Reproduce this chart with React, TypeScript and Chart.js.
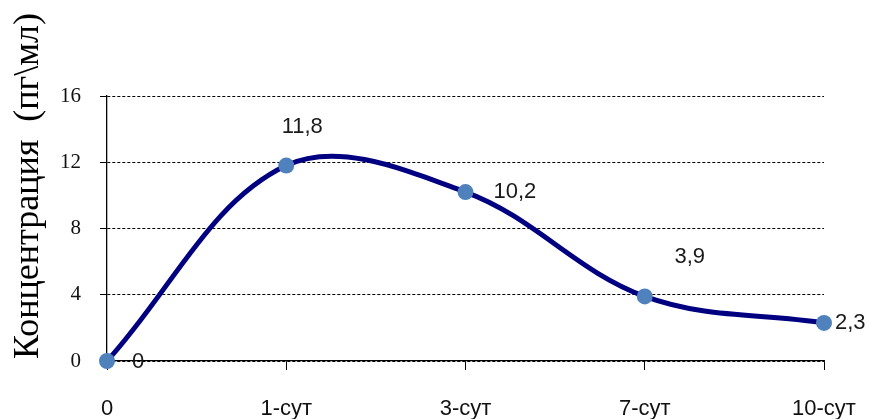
import React, { useEffect, useRef } from "react";
import { Chart, registerables } from "chart.js";

Chart.register(...registerables);

const categories = ["0", "1-сут", "3-сут", "7-сут", "10-сут"];
const concentration = [0, 11.8, 10.2, 3.9, 2.3];
const valueLabels = ["0", "11,8", "10,2", "3,9", "2,3"];
const yTicks = [0, 4, 8, 12, 16];
const yTitle = "Концентрация  (пг\\мл)";

const labelPlugin = {
  id: "valueLabels",
  afterDatasetsDraw(chart: any, _args: any, opts: any) {
    const meta = chart.getDatasetMeta(0);
    const ctx = chart.ctx;
    ctx.save();
    ctx.font = opts.font;
    ctx.fillStyle = opts.color;
    ctx.textBaseline = "middle";
    meta.data.forEach((pt: any, i: number) => {
      const p = opts.placement[i];
      ctx.textAlign = p.align;
      ctx.fillText(valueLabels[i], pt.x + p.dx, pt.y + p.dy);
    });
    ctx.restore();
  },
};

const titlePlugin = {
  id: "yTitle",
  afterDraw(chart: any, _args: any, opts: any) {
    const ctx = chart.ctx;
    ctx.save();
    ctx.translate(opts.x, opts.y);
    ctx.rotate(-Math.PI / 2);
    ctx.font = opts.font;
    ctx.fillStyle = opts.color;
    ctx.textAlign = "center";
    ctx.textBaseline = "middle";
    ctx.fillText(yTitle, 0, 0);
    ctx.restore();
  },
};

export default function App() {
  const ref = useRef<HTMLCanvasElement | null>(null);
  useEffect(() => {
    document.body.style.margin = "0";
    const chart = new Chart(ref.current as HTMLCanvasElement, {
      type: "line",
      data: {
        labels: categories,
        datasets: [
          {
            data: concentration,
            borderColor: "#000080",
            borderWidth: 5,
            tension: 0.36,
            pointRadius: 8,
            pointBackgroundColor: "#4F81BD",
            pointBorderWidth: 0,
            pointBorderColor: "#4F81BD",
            clip: false as any,
            fill: false,
          },
        ],
      },
      plugins: [labelPlugin, titlePlugin],
      options: {
        animation: false,
        responsive: false,
        devicePixelRatio: 1,
        layout: { padding: { top: 96, right: 45, left: 0, bottom: 0 } },
        plugins: {
          legend: { display: false },
          tooltip: { enabled: false },
          valueLabels: {
            font: "22px 'Liberation Sans', Arial, sans-serif",
            color: "#1a1a1a",
            placement: [
              { dx: 25, dy: 1, align: "left" },
              { dx: 16, dy: -39, align: "center" },
              { dx: 28, dy: 0, align: "left" },
              { dx: 45, dy: -39, align: "center" },
              { dx: 11, dy: 0, align: "left" },
            ],
          },
          yTitle: {
            x: 29,
            y: 186,
            font: "36px 'Liberation Serif', 'Times New Roman', serif",
            color: "#000",
          },
        } as any,
        scales: {
          x: {
            type: "category",
            offset: false,
            afterFit: (s: any) => {
              s.height = 58;
              s.paddingLeft = 0;
              s.paddingRight = 0;
            },
            grid: {
              drawOnChartArea: false,
              drawTicks: true,
              tickLength: 9,
              color: "#000",
              lineWidth: 1,
            },
            border: { display: true, color: "#000", width: 1.3 },
            ticks: {
              padding: 26,
              color: "#111",
              font: { family: "'Liberation Sans', Arial, sans-serif", size: 22 },
              maxRotation: 0,
              autoSkip: false,
            },
          },
          y: {
            min: 0,
            max: 16,
            afterFit: (s: any) => {
              s.width = 107;
              s.paddingTop = 0;
              s.paddingBottom = 0;
            },
            afterBuildTicks: (s: any) => {
              s.ticks = yTicks.map((v) => ({ value: v }));
            },
            grid: {
              color: "#000",
              lineWidth: 1,
              tickLength: 7,
              drawTicks: true,
            },
            border: { display: true, color: "#000", width: 1.3, dash: [3, 2] },
            ticks: {
              padding: 19,
              color: "#111",
              font: { family: "'Liberation Serif', 'Times New Roman', serif", size: 21 },
            },
          },
        },
      },
    });
    return () => chart.destroy();
  }, []);
  return (
    <div style={{ position: "absolute", left: 0, top: 0, width: 869, height: 419 }}>
      <canvas ref={ref} width={869} height={419} />
    </div>
  );
}
